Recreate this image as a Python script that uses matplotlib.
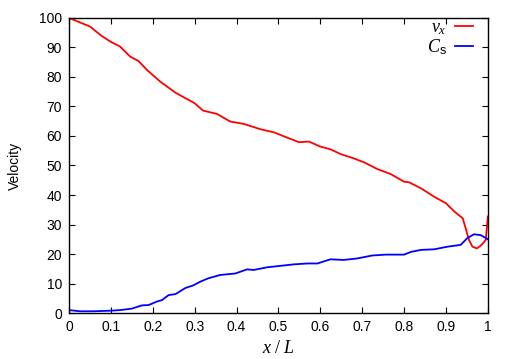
import matplotlib
matplotlib.use("Agg")
import matplotlib.pyplot as plt

plt.rcParams['font.family'] = ['Liberation Sans', 'DejaVu Sans']
plt.rcParams['mathtext.fontset'] = 'custom'
plt.rcParams['mathtext.rm'] = 'Liberation Serif'
plt.rcParams['mathtext.it'] = 'Liberation Serif:italic'
plt.rcParams['mathtext.sf'] = 'Liberation Sans'

# Data
vx_x = [0.0, 0.05, 0.078, 0.1, 0.122, 0.146, 0.166, 0.186, 0.218, 0.254, 0.278, 0.286,
        0.3, 0.32, 0.353, 0.385, 0.417, 0.457, 0.49, 0.52, 0.549, 0.573, 0.6, 0.624,
        0.648, 0.68, 0.704, 0.736, 0.768, 0.8, 0.812, 0.84, 0.872, 0.9, 0.92, 0.94,
        0.947, 0.955, 0.963, 0.974, 0.985, 0.995, 1.0]
vx_y = [100, 97.1, 93.9, 91.9, 90.3, 86.9, 85.4, 82.4, 78.4, 74.7, 72.8, 72.2,
        71.1, 68.6, 67.5, 64.9, 64.1, 62.3, 61.2, 59.5, 57.9, 58.1, 56.4, 55.5,
        53.9, 52.4, 51.1, 48.8, 47.1, 44.5, 44.3, 42.3, 39.4, 37.2, 34.4, 32.1,
        28.7, 24.8, 22.5, 21.9, 23.1, 24.8, 32.7]

cs_x = [0.0, 0.026, 0.058, 0.1, 0.122, 0.15, 0.174, 0.19, 0.21, 0.222, 0.238, 0.254,
        0.278, 0.297, 0.313, 0.333, 0.361, 0.397, 0.425, 0.441, 0.473, 0.505, 0.537,
        0.569, 0.593, 0.624, 0.656, 0.688, 0.724, 0.756, 0.8, 0.816, 0.84, 0.872,
        0.904, 0.935, 0.951, 0.967, 0.983, 1.0]
cs_y = [1.0, 0.6, 0.6, 0.8, 1.0, 1.5, 2.6, 2.7, 3.9, 4.4, 6.1, 6.4,
        8.5, 9.4, 10.6, 11.8, 12.9, 13.4, 14.8, 14.6, 15.5, 16.0, 16.5,
        16.8, 16.8, 18.2, 18.0, 18.5, 19.5, 19.8, 19.8, 20.7, 21.4, 21.6,
        22.5, 23.1, 25.4, 26.7, 26.4, 25.0]

xticks = [0, 0.1, 0.2, 0.3, 0.4, 0.5, 0.6, 0.7, 0.8, 0.9, 1]
xticklabels = ['0', '0.1', '0.2', '0.3', '0.4', '0.5', '0.6', '0.7', '0.8', '0.9', '1']
yticks = list(range(0, 101, 10))

fig = plt.figure(figsize=(5.13, 3.59), dpi=100)
ax = fig.add_axes([0.1345, 0.128, 0.8165, 0.822])

ax.plot(vx_x, vx_y, color='#ff0000', lw=1.3, label=r'$v_x$')
ax.plot(cs_x, cs_y, color='#0000ff', lw=1.3, label=r'$C_\mathsf{s}$')

ax.set_xlim(0, 1)
ax.set_ylim(0, 100)
ax.set_xticks(xticks)
ax.set_xticklabels(xticklabels)
ax.set_yticks(yticks)
ax.tick_params(direction='in', top=True, right=True, length=4, width=0.8,
               labelsize=10, pad=5)
for s in ax.spines.values():
    s.set_linewidth(1.0)

ax.set_ylabel('Velocity', fontsize=10, labelpad=12)
ax.set_xlabel(r'$x\ /\ L$', fontsize=13, labelpad=4)

ax.legend(loc='upper right', frameon=False, markerfirst=False, fontsize=13,
          handlelength=1.0, handletextpad=0.5, labelspacing=0.0,
          borderaxespad=0.0, borderpad=0.1, bbox_to_anchor=(0.97, 1.0))

fig.savefig('out.png', dpi=100)
